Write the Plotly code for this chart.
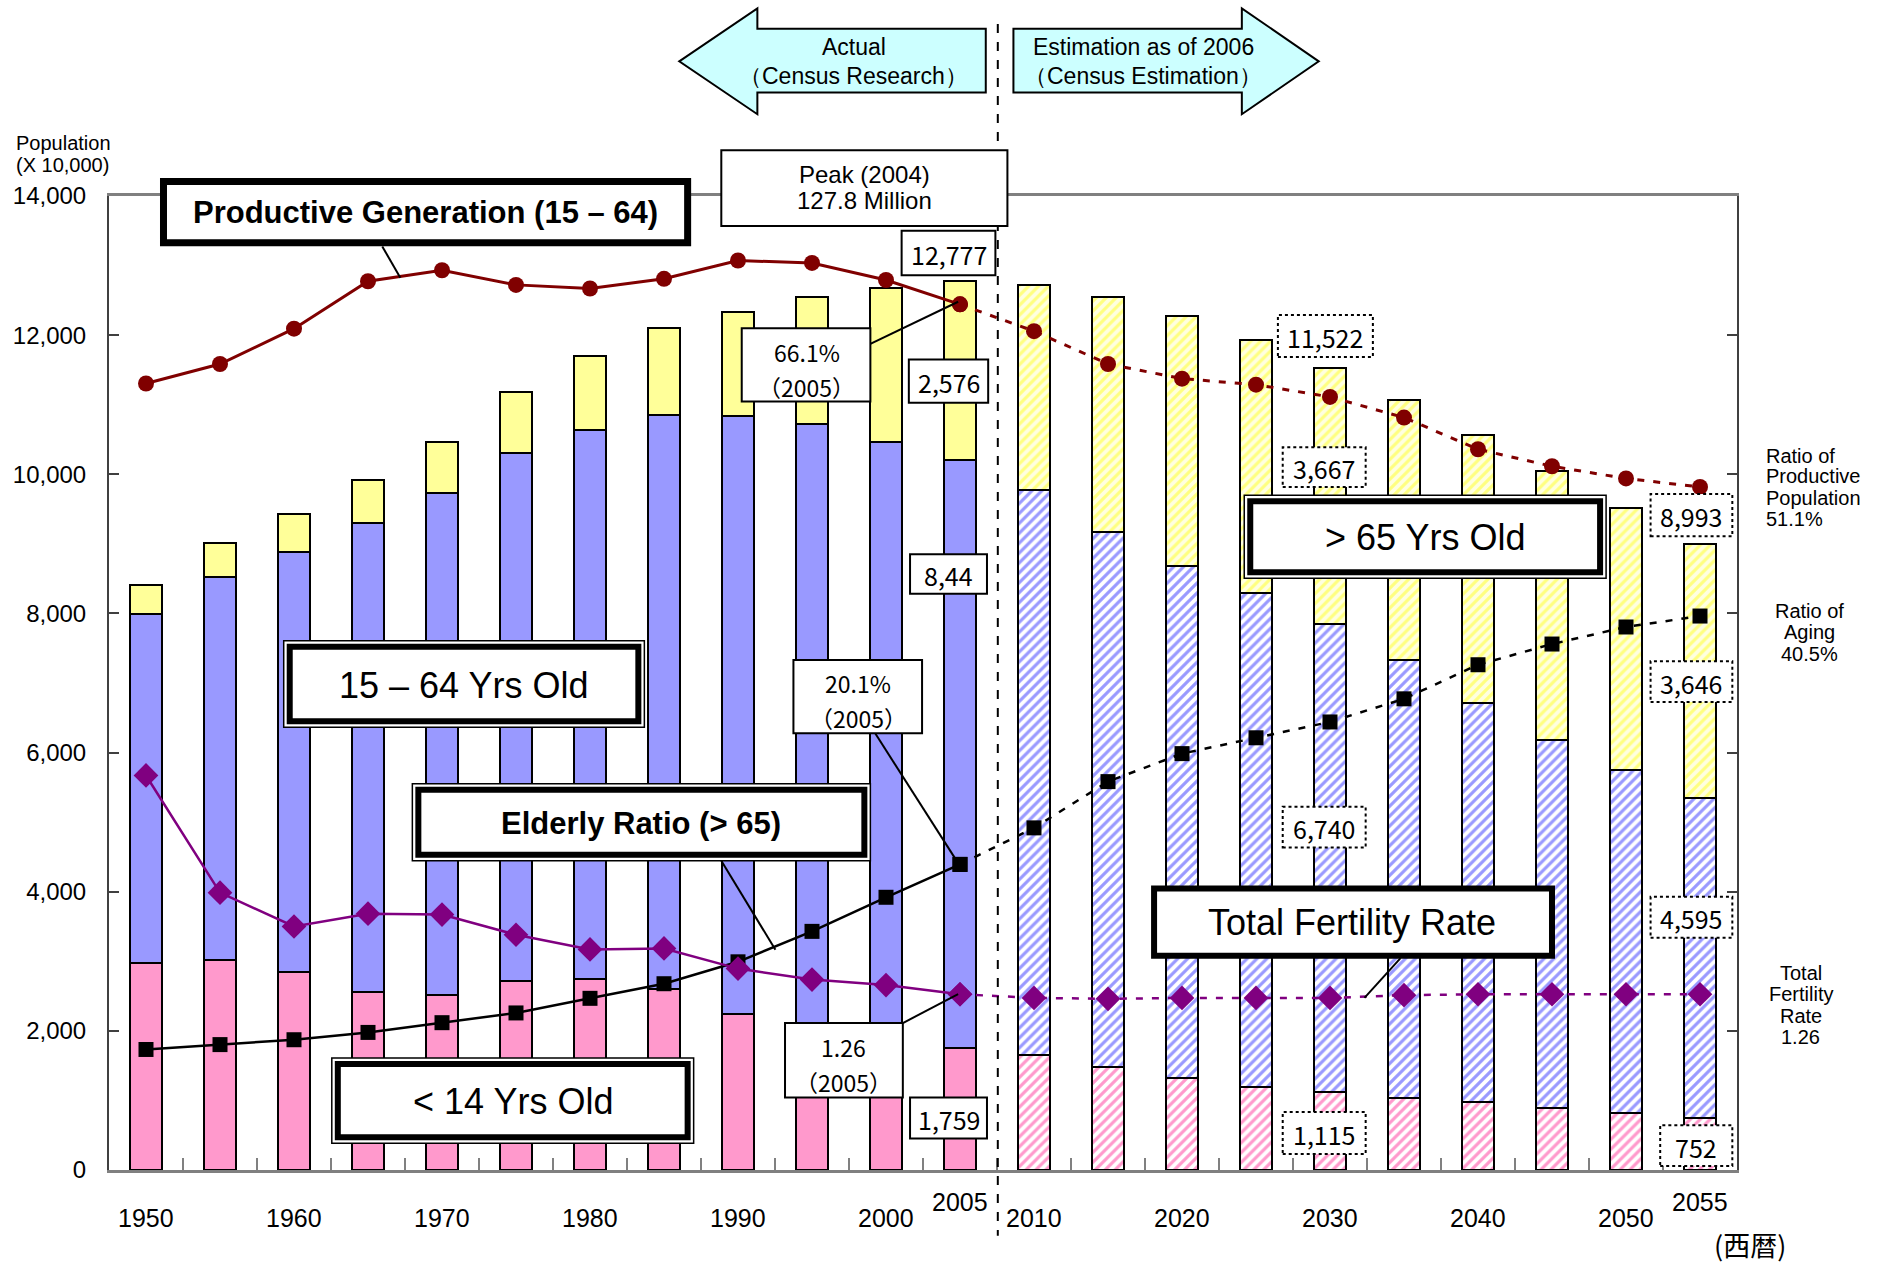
import plotly.graph_objects as go

# ---------------- data ----------------
years = [1950, 1955, 1960, 1965, 1970, 1975, 1980, 1985, 1990, 1995, 2000, 2005,
         2010, 2015, 2020, 2025, 2030, 2035, 2040, 2045, 2050, 2055]
pop_0_14 = [2979, 3012, 2843, 2553, 2515, 2722, 2751, 2603, 2249, 2001, 1847, 1759,
            1648, 1484, 1324, 1196, 1115, 1037, 973, 885, 821, 752]
pop_15_64 = [5017, 5517, 6047, 6744, 7212, 7581, 7883, 8251, 8590, 8716, 8622, 8442,
             8128, 7681, 7363, 7096, 6740, 6292, 5744, 5290, 4930, 4595]
pop_65_over = [416, 479, 540, 624, 739, 887, 1065, 1247, 1489, 1826, 2204, 2576,
               2941, 3378, 3590, 3635, 3667, 3739, 3853, 3869, 3764, 3646]
productive_ratio = [59.6, 61.2, 64.1, 68.0, 68.9, 67.7, 67.4, 68.2, 69.7, 69.5, 68.1, 66.1,
                    63.9, 61.2, 60.0, 59.5, 58.5, 56.8, 54.2, 52.8, 51.8, 51.1]
aging_ratio = [4.9, 5.3, 5.7, 6.3, 7.1, 7.9, 9.1, 10.3, 12.1, 14.6, 17.4, 20.1,
               23.1, 26.9, 29.2, 30.5, 31.8, 33.7, 36.5, 38.2, 39.6, 40.5]
fertility_rate = [3.65, 2.37, 2.00, 2.14, 2.13, 1.91, 1.75, 1.76, 1.54, 1.42, 1.36, 1.26,
                  1.22, 1.21, 1.22, 1.22, 1.22, 1.25, 1.26, 1.26, 1.26, 1.26]
y_ticks = [0, 2000, 4000, 6000, 8000, 10000, 12000, 14000]
x_labels_low = [1950, 1960, 1970, 1980, 1990, 2000, 2010, 2020, 2030, 2040, 2050]
x_labels_high = [2005, 2055]
last_actual_year = 2005

# ---------------- geometry helpers ----------------
W, H = 1885, 1263
S = 1885 / 1568.0            # reference sketch units -> pixels
L, R, T, B = round(91 * S), round(1445 * S), round(163 * S), round(973 * S)

def px(xd):
    return (xd * S - L) / (R - L)

def py(yd):
    return (B - yd * S) / (B - T)

SANS = "Liberation Sans, Arial, sans-serif"
JP = "Noto Sans CJK JP, sans-serif"

n_act = years.index(last_actual_year) + 1
totals = [a + b + c for a, b, c in zip(pop_0_14, pop_15_64, pop_65_over)]

fig = go.Figure()

groups = [
    (pop_0_14, "#FF99CC", "#FF99CC", "#FFFFFF", "< 14"),
    (pop_15_64, "#9999FF", "#9999FF", "#FFFFFF", "15-64"),
    (pop_65_over, "#FFFF99", "#FFFF80", "#FFFFE0", "65+"),
]
BAR_W = 2.1
for vals, solid, fg, bg, name in groups:
    fig.add_trace(go.Bar(
        x=years[:n_act], y=vals[:n_act], width=BAR_W, name=name,
        marker=dict(color=solid, line=dict(color="black", width=2.5)),
        showlegend=False))
    fig.add_trace(go.Bar(
        x=years[n_act:], y=vals[n_act:], width=BAR_W, name=name,
        marker=dict(color=bg, line=dict(color="black", width=2.5),
                    pattern=dict(shape="/", fgcolor=fg, bgcolor=bg,
                                 size=7, solidity=0.45, fillmode="replace")),
        showlegend=False))

lines = [
    (productive_ratio, "y2", "#800000", "circle", 16, 3),
    (aging_ratio, "y2", "#000000", "square", 15, 2.5),
    (fertility_rate, "y3", "#800080", "diamond", 19, 2.5),
]
for vals, ax, col, sym, msz, lw in lines:
    fig.add_trace(go.Scatter(
        x=years[:n_act], y=vals[:n_act], yaxis=ax, mode="lines+markers",
        line=dict(color=col, width=lw), marker=dict(symbol=sym, size=msz, color=col),
        showlegend=False, cliponaxis=False))
    fig.add_trace(go.Scatter(
        x=years[n_act - 1:], y=vals[n_act - 1:], yaxis=ax, mode="lines+markers",
        line=dict(color=col, width=lw, dash="7px,9px"),
        marker=dict(symbol=sym, size=msz, color=col),
        showlegend=False, cliponaxis=False))

boundaries = [(a + b) / 2 for a, b in zip(years[:-1], years[1:])]

fig.update_layout(
    width=W, height=H,
    margin=dict(l=L, r=W - R, t=T, b=H - B, pad=0),
    paper_bgcolor="white", plot_bgcolor="white",
    barmode="stack", bargap=0,
    font=dict(family=SANS, color="black"),
    xaxis=dict(range=[years[0] - 2.5, years[-1] + 2.5], tickvals=boundaries,
               ticks="inside", ticklen=12, tickwidth=1.5, tickcolor="#808080",
               showticklabels=False, showline=True, linecolor="#808080",
               linewidth=3, mirror=True, showgrid=False, zeroline=False),
    yaxis=dict(range=[0, 14000], tickvals=y_ticks, tickformat=",",
               ticks="inside", ticklen=10, tickwidth=1.5, tickcolor="#404040",
               showline=True, linecolor="#404040", linewidth=2, mirror="ticks",
               showgrid=False, zeroline=False, ticklabelstandoff=16,
               tickfont=dict(family=SANS, size=24, color="black")),
    yaxis2=dict(overlaying="y", range=[-5, 75], visible=False),
    yaxis3=dict(overlaying="y", range=[-0.66, 9.98], visible=False),
)

# ---------------- decoration helpers ----------------
def rect(x0, y0, x1, y1, width=2, dash=None, fill="white", color="black"):
    fig.add_shape(type="rect", xref="paper", yref="paper",
                  x0=px(x0), x1=px(x1), y0=py(y1), y1=py(y0),
                  line=dict(color=color, width=width, dash=dash),
                  fillcolor=fill, layer="above")

def seg(x0, y0, x1, y1, width=2, color="black", dash=None):
    fig.add_shape(type="line", xref="paper", yref="paper",
                  x0=px(x0), x1=px(x1), y0=py(y0), y1=py(y1),
                  line=dict(color=color, width=width, dash=dash), layer="above")

def text(xd, yd, s, size, bold=False, family=SANS, anchor="center", color="black"):
    fig.add_annotation(xref="paper", yref="paper", x=px(xd), y=py(yd),
                       text=("<b>%s</b>" % s) if bold else s, showarrow=False,
                       xanchor=anchor, yanchor="middle",
                       font=dict(family=family, size=size, color=color))

def path(points, fill="#CCFFFF"):
    d = "M " + " L ".join("%f,%f" % (px(x), py(y)) for x, y in points) + " Z"
    fig.add_shape(type="path", xref="paper", yref="paper", path=d,
                  fillcolor=fill, line=dict(color="black", width=2), layer="above")

def double_box(x0, y0, x1, y1):
    rect(x0, y0, x1, y1, width=1.5)
    rect(x0 + 5, y0 + 5, x1 - 5, y1 - 5, width=6)

# separator between actual and estimation
seg(830, 20, 830, 1028, width=2, dash="dash")

# header arrows
path([(565, 51), (630, 7), (630, 24), (820, 24), (820, 77), (630, 77), (630, 95)])
path([(1097, 51), (1033, 7), (1033, 24), (843, 24), (843, 77), (1033, 77), (1033, 95)])
text(710, 39, "Actual", 23)
text(710, 63, "（Census Research）", 23)
text(951, 39, "Estimation as of 2006", 23)
text(951, 63, "（Census Estimation）", 23)

# leader lines
seg(318, 205, 333, 231)
seg(724, 286, 797, 251)
seg(728, 610, 797, 718)
seg(751, 851, 797, 827)
seg(600, 716, 645, 790)
seg(1165, 797, 1135, 830)

# peak box
rect(600, 125, 838, 188, width=2)
text(719, 145, "Peak (2004)", 24)
text(719, 167, "127.8 Million", 24)

# big labels
rect(136, 151, 572, 202, width=7)
text(354, 177, "Productive Generation (15 – 64)", 31, bold=True)
double_box(236, 533, 536, 605)
text(386, 570, "15 – 64 Yrs Old", 36)
double_box(343, 652, 724, 716)
text(533, 685, "Elderly Ratio (> 65)", 31, bold=True)
double_box(276, 880, 577, 951)
text(427, 916, "< 14 Yrs Old", 36)
double_box(1035, 412, 1336, 481)
text(1185, 447, "> 65 Yrs Old", 36)
rect(960, 739, 1291, 795, width=6)
text(1125, 767, "Total Fertility Rate", 36)

# 2005 ratio callouts
i05 = n_act - 1
rect(617, 273, 724, 334, width=2)
text(671, 293, "%.1f%%" % productive_ratio[i05], 23, family=JP)
text(671, 322, "（%d）" % years[i05], 23, family=JP)
rect(660, 549, 767, 610, width=2)
text(714, 568, "%.1f%%" % aging_ratio[i05], 23, family=JP)
text(714, 597, "（%d）" % years[i05], 23, family=JP)
rect(653, 851, 751, 913, width=2)
text(702, 871, "%.2f" % fertility_rate[i05], 23, family=JP)
text(702, 900, "（%d）" % years[i05], 23, family=JP)

# value boxes 2005 (solid)
rect(750, 192, 828, 229, width=2)
text(789, 211, "{:,}".format(totals[i05]), 25, family=JP)
rect(756, 299, 822, 335, width=2)
text(789, 318, "{:,}".format(pop_65_over[i05]), 25, family=JP)
rect(757, 461, 821, 494, width=2)
text(789, 478, "{:,}".format(pop_15_64[i05])[:4], 25, family=JP)  # clipped in original
rect(757, 913, 821, 947, width=2)
text(789, 931, "{:,}".format(pop_0_14[i05]), 25, family=JP)

# value boxes 2030 / 2055 (dotted)
i30 = years.index(2030)
i55 = years.index(2055)
for (x0, y0, x1, y1, v) in [
    (1063, 262, 1142, 297, totals[i30]),
    (1067, 372, 1136, 405, pop_65_over[i30]),
    (1067, 671, 1136, 705, pop_15_64[i30]),
    (1067, 925, 1136, 960, pop_0_14[i30]),
    (1373, 411, 1441, 446, totals[i55]),
    (1373, 550, 1441, 584, pop_65_over[i55]),
    (1373, 746, 1441, 780, pop_15_64[i55]),
    (1381, 936, 1441, 970, pop_0_14[i55]),
]:
    rect(x0, y0, x1, y1, width=2, dash="dot")
    text((x0 + x1) / 2, (y0 + y1) / 2 + 1, "{:,}".format(v), 25, family=JP)

# right-hand labels
for yd, s in zip([379, 396, 414, 432],
                 ["Ratio of", "Productive", "Population", "%.1f%%" % productive_ratio[-1]]):
    text(1467, yd, s, 20, anchor="left")
for yd, s in zip([508, 526, 544], ["Ratio of", "Aging", "%.1f%%" % aging_ratio[-1]]):
    text(1505, yd, s, 20)
for yd, s in zip([809, 827, 845, 863], ["Total", "Fertility", "Rate", "%.2f" % fertility_rate[-1]]):
    text(1498, yd, s, 20)

# axis title
text(12, 119, "Population", 20, anchor="left")
text(12, 137, "(X 10,000)", 20, anchor="left")

# x tick labels
for yr in x_labels_low:
    fig.add_annotation(xref="x", yref="paper", x=yr, y=py(1013), text=str(yr),
                       showarrow=False, xanchor="center", yanchor="middle",
                       font=dict(family=SANS, size=25, color="black"))
for yr in x_labels_high:
    fig.add_annotation(xref="x", yref="paper", x=yr, y=py(1000), text=str(yr),
                       showarrow=False, xanchor="center", yanchor="middle",
                       font=dict(family=SANS, size=25, color="black"))
text(1456, 1035, "(西暦)", 27, family=JP)

fig.write_html("out.html", config={"displayModeBar": False},
               post_script="document.body.style.margin='0px';")
